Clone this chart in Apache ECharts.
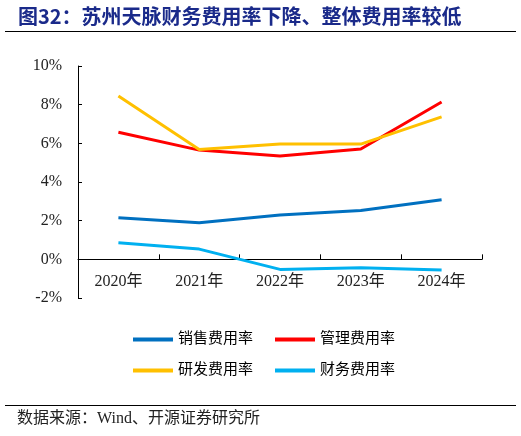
<!DOCTYPE html>
<html>
<head>
<meta charset="utf-8">
<script src="https://cdn.jsdelivr.net/npm/echarts@6/dist/echarts.min.js"></script>
<style>
  html, body { margin: 0; padding: 0; background: #fff; }
  #main { width: 521px; height: 436px; }
</style>
</head>
<body>
<div id="main"></div>
<script>
// 数据
var years = ['2020年', '2021年', '2022年', '2023年', '2024年'];
var seriesNames = ['销售费用率', '管理费用率', '研发费用率', '财务费用率'];
var xiaoshou = [2.15, 1.89, 2.29, 2.53, 3.08];
var guanli = [6.57, 5.65, 5.34, 5.71, 8.14];
var yanfa = [8.45, 5.68, 5.96, 5.96, 7.37];
var caiwu = [0.86, 0.53, -0.52, -0.43, -0.55];
var colors = ['#0070C0', '#FF0000', '#FFC000', '#00B0F0'];

var serif = '"Liberation Serif", "Times New Roman", "Noto Sans CJK SC", serif';

var myChart = echarts.init(document.getElementById('main'));

function makeLine(name, data, color) {
    return {
        name: name,
        type: 'line',
        data: data,
        symbol: 'none',
        smooth: false,
        lineStyle: { color: color, width: 3 },
        itemStyle: { color: color }
    };
}

myChart.setOption({
    animation: false,
    backgroundColor: '#fff',
    graphic: [
        {
            type: 'text', left: 18, top: 6,
            style: {
                text: '图32：苏州天脉财务费用率下降、整体费用率较低',
                fill: '#1a2a8a',
                font: 'bold 20px "Noto Sans CJK SC", serif'
            }
        },
        { type: 'line', shape: { x1: 5, y1: 31.5, x2: 516, y2: 31.5 }, style: { stroke: '#000', lineWidth: 1 } },
        { type: 'line', shape: { x1: 5, y1: 405.5, x2: 516, y2: 405.5 }, style: { stroke: '#000', lineWidth: 1 } },
        {
            type: 'text', left: 17, top: 411,
            style: {
                text: '数据来源：Wind、开源证券研究所',
                fill: '#222',
                font: '16px ' + serif
            }
        }
    ],
    legend: [
        {
            data: [seriesNames[0], seriesNames[1]],
            left: 128, top: 327,
            icon: 'rect', itemWidth: 40, itemHeight: 4, itemGap: 22,
            textStyle: { fontSize: 15, color: '#000', fontFamily: serif }
        },
        {
            data: [seriesNames[2], seriesNames[3]],
            left: 128, top: 358,
            icon: 'rect', itemWidth: 40, itemHeight: 4, itemGap: 22,
            textStyle: { fontSize: 15, color: '#000', fontFamily: serif }
        }
    ],
    grid: { left: 78, right: 39, top: 66, bottom: 138, containLabel: false },
    xAxis: {
        type: 'category',
        data: years,
        boundaryGap: true,
        offset: -38.67,
        axisLine: { onZero: false, lineStyle: { color: '#000', width: 1 } },
        axisTick: { show: true, inside: true, length: 5, lineStyle: { color: '#000' } },
        axisLabel: { color: '#222', fontSize: 16, fontFamily: serif, margin: 14 }
    },
    yAxis: {
        type: 'value',
        min: -2, max: 10, interval: 2,
        splitLine: { show: false },
        axisLine: { show: true, lineStyle: { color: '#000', width: 1 } },
        axisTick: { show: true, inside: true, length: 4, lineStyle: { color: '#000' } },
        axisLabel: {
            color: '#222', fontSize: 16, fontFamily: serif, margin: 16,
            formatter: function (v) { return v + '%'; }
        }
    },
    series: [
        makeLine(seriesNames[0], xiaoshou, colors[0]),
        makeLine(seriesNames[1], guanli, colors[1]),
        makeLine(seriesNames[2], yanfa, colors[2]),
        makeLine(seriesNames[3], caiwu, colors[3])
    ]
});
</script>
</body>
</html>
